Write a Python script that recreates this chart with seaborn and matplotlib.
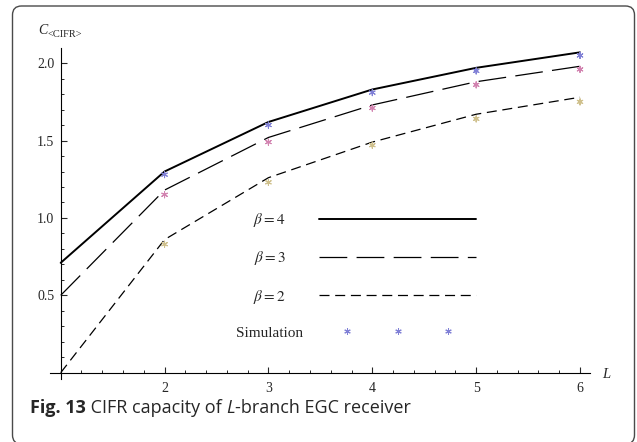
import numpy as np
import pandas as pd
import matplotlib
matplotlib.use("Agg")
import matplotlib.pyplot as plt
import matplotlib.transforms as mtransforms
from matplotlib.lines import Line2D
from matplotlib.legend_handler import HandlerLine2D
from matplotlib.patches import FancyBboxPatch
from matplotlib.ticker import FixedLocator
import seaborn as sns

# Number of diversity branches
L = [1, 2, 3, 4, 5, 6]
# Analytical CIFR capacity for each beta
cap_beta4 = [0.71, 1.30, 1.62, 1.83, 1.97, 2.07]
cap_beta3 = [0.50, 1.18, 1.52, 1.73, 1.88, 1.98]
cap_beta2 = [0.00, 0.86, 1.26, 1.49, 1.67, 1.78]
# Monte-Carlo simulation results
sim_L = [2, 3, 4, 5, 6]
sim_beta4 = [1.28, 1.60, 1.81, 1.95, 2.05]
sim_beta3 = [1.15, 1.49, 1.71, 1.86, 1.96]
sim_beta2 = [0.83, 1.23, 1.47, 1.64, 1.75]

beta_labels = [r"$\beta=4$", r"$\beta=3$", r"$\beta=2$"]
x_ticks = [2, 3, 4, 5, 6]
y_ticks = [0.5, 1.0, 1.5, 2.0]
caption_bold = "Fig. 13"
caption_text = " CIFR capacity of "
caption_italic = "L"
caption_tail = "-branch EGC receiver"

sns.set_style("white")
plt.rcParams["font.family"] = ["Liberation Serif", "DejaVu Serif"]
plt.rcParams["mathtext.fontset"] = "stix"
plt.rcParams["lines.scale_dashes"] = False

W, H = 637, 442
fig = plt.figure(figsize=(W / 100, H / 100), dpi=100)
ax = fig.add_axes([50.3 / W, 1 - 378.9 / H, 540.1 / W, 331.2 / H])
ax.set_facecolor("none")

sim_colors = ["#8080d6", "#d283b0", "#cfc08c"]
dash_styles = [(None, None), (20, 6.7), (7.2, 4.1)]
widths = [1.4, 0.9, 0.9]

curves = pd.DataFrame({
    "L": L * 3,
    "C": cap_beta4 + cap_beta3 + cap_beta2,
    "beta": ["4"] * 6 + ["3"] * 6 + ["2"] * 6,
})
sims = pd.DataFrame({
    "L": sim_L * 3,
    "C": sim_beta4 + sim_beta3 + sim_beta2,
    "beta": ["4"] * 5 + ["3"] * 5 + ["2"] * 5,
})

for b, ls, lw in zip(["4", "3", "2"], dash_styles, widths):
    sub = curves[curves["beta"] == b]
    line_kw = dict(color="black", lw=lw)
    if ls[0] is not None:
        line_kw.update(dashes=ls)
    sns.lineplot(data=sub, x="L", y="C", ax=ax, legend=False, **line_kw)

sns.scatterplot(data=sims, x="L", y="C", hue="beta", hue_order=["4", "3", "2"],
                palette=sim_colors, marker=(6, 2, 0), s=20, linewidth=0.75,
                ax=ax, legend=False, zorder=3)

ax.set_xlim(0.9, 6.1)
ax.set_ylim(-0.04, 2.1)
ax.spines["left"].set_position(("data", 1))
ax.spines["bottom"].set_position(("data", 0))
for s in ["top", "right"]:
    ax.spines[s].set_visible(False)
for s in ["left", "bottom"]:
    ax.spines[s].set_linewidth(0.8)
    ax.spines[s].set_color("black")

ax.xaxis.set_major_locator(FixedLocator(x_ticks))
ax.xaxis.set_minor_locator(FixedLocator(np.arange(1.2, 6.01, 0.2)))
ax.yaxis.set_major_locator(FixedLocator(y_ticks))
ax.yaxis.set_minor_locator(FixedLocator(np.arange(0.1, 2.05, 0.1)))
ax.set_xticklabels([str(t) for t in x_ticks])
ax.set_yticklabels([f"{t:.1f}" for t in y_ticks])
ax.tick_params(axis="both", which="major", direction="in", length=4, width=0.8,
               labelsize=10, bottom=True, left=True)
ax.tick_params(axis="both", which="minor", direction="in", length=2.5, width=0.7,
               bottom=True, left=True)
ax.tick_params(axis="x", which="major", pad=7)
ax.tick_params(axis="y", which="major", pad=4.5)
ax.set_xlabel("")
ax.set_ylabel("")

# Axis titles
fig.text(38 / W, 1 - 34 / H, "C", fontsize=10, style="italic", va="baseline")
fig.text(48 / W, 1 - 37 / H, "<CIFR>", fontsize=7.5, va="baseline")
fig.text(602 / W, 1 - 378 / H, "L", fontsize=10.5, style="italic", va="baseline")

# Legend
fs = 11
fs_px = fs * 100 / 72
handles = [
    Line2D([], [], color="black", lw=1.4),
    Line2D([], [], color="black", lw=0.9, dashes=dash_styles[1]),
    Line2D([], [], color="black", lw=0.9, dashes=dash_styles[2]),
    Line2D([], [], ls="none", marker=(6, 2, 0), color=sim_colors[0], ms=4.6, mew=0.75),
]
labels = beta_labels + ["Simulation"]
leg = ax.legend(handles, labels, loc="upper right",
                bbox_to_anchor=(476 / W, 1 - 211 / H), bbox_transform=fig.transFigure,
                frameon=False, markerfirst=False, fontsize=fs,
                handlelength=157 / fs_px, handletextpad=16 / fs_px,
                labelspacing=1.33, borderpad=0, borderaxespad=0,
                handler_map={handles[3]: HandlerLine2D(numpoints=3, marker_pad=28 / fs_px)})

# Caption
cap_fs = 13
cap1 = fig.text(30 / W, 1 - 413.3 / H, caption_bold, fontsize=cap_fs,
                family="Open Sans", weight="bold", va="baseline")
cap2 = fig.text(0, 0, caption_text, fontsize=cap_fs, family="Open Sans", va="baseline")
cap3 = fig.text(0, 0, caption_italic, fontsize=cap_fs, family="Open Sans",
                style="italic", va="baseline")
cap4 = fig.text(0, 0, caption_tail, fontsize=cap_fs, family="Open Sans", va="baseline")

# Outer rounded frame
frame = FancyBboxPatch((12.5, -2), 622, 438.0, boxstyle="round,pad=0,rounding_size=9",
                       transform=mtransforms.IdentityTransform(), fill=False,
                       edgecolor="#4a4a4a", lw=1.0)
fig.patches.append(frame)

fig.canvas.draw()
r = fig.canvas.get_renderer()

# Center the legend labels on a common column
texts = leg.get_texts()
tw = [t.get_window_extent(r).width for t in texts]
wmax = max(tw)
for t, w in zip(texts, tw):
    t.set_transform(t.get_transform() + mtransforms.Affine2D().translate(-(wmax - w) / 2, 0))

# Chain caption pieces along the baseline
prev = cap1
for piece in [cap2, cap3, cap4]:
    bb = prev.get_window_extent(r)
    piece.set_position((bb.x1 / W, cap1.get_position()[1]))
    fig.canvas.draw()
    prev = piece

fig.savefig("out.png", dpi=100)
